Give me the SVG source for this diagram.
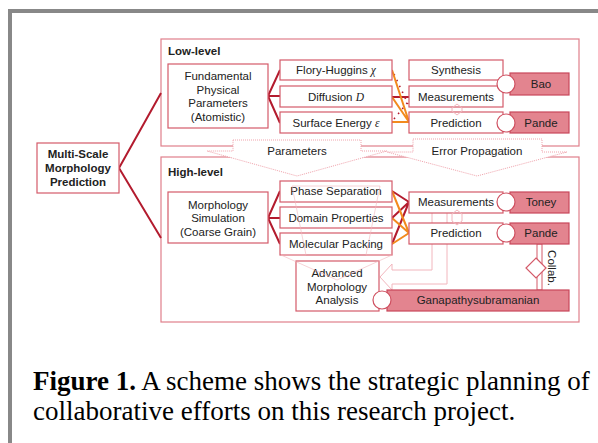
<svg xmlns="http://www.w3.org/2000/svg" width="598" height="443" viewBox="0 0 598 443">
<style>
.t{font-family:"Liberation Sans",Arial,sans-serif;font-size:11.5px;fill:#222;text-anchor:middle;dominant-baseline:central}
.b{font-weight:bold}
.lbl{font-family:"Liberation Sans",Arial,sans-serif;font-size:11.5px;font-weight:bold;fill:#222}
.node{fill:#fff;stroke:#d45a69;stroke-width:1.2}
.cont{fill:none;stroke:#e07f8b;stroke-width:1.2}
.name{fill:#e3848f;stroke:#c8475a;stroke-width:1.2}
.circ{fill:#fff;stroke:#cf5060;stroke-width:1.2}
.dr{stroke:#b31b2e;stroke-width:2;fill:none}
.or{stroke:#f28a1e;stroke-width:2;fill:none}
.dot{stroke:#b31b2e;stroke-width:1.6;fill:none;stroke-dasharray:1.5 5}
.faint{fill:none;stroke:#f2b6bd;stroke-width:1}
.call{fill:#fff;stroke:#f0a3ac;stroke-width:1;stroke-dasharray:1 1}
.it{font-family:"Liberation Serif","Times New Roman",serif;font-style:italic}
.cap{font-family:"Liberation Serif","Times New Roman",serif;font-size:27px;fill:#000}
</style>
<rect x="10" y="11" width="600" height="450" fill="#fff" stroke="#888" stroke-width="4"/>

<g id="containers">
<rect id="low-level" class="cont" x="161" y="39" width="418" height="107"/>
<rect id="high-level" class="cont" x="161" y="157" width="418" height="165"/>
<text class="lbl" x="168" y="55">Low-level</text>
<text class="lbl" x="168" y="176">High-level</text>
</g>

<g id="faint-arrows">
<path class="faint" d="M432 213 L432 270 L392 270 L392 264 L380 277 L392 290 L392 284 L447 284 L447 213"/>
</g>

<g id="callouts">
<polygon id="parameters" class="call" points="233,140 361,140 361,151 387,151 297,176 207,151 233,151"/>
<text class="t" x="297" y="151">Parameters</text>
<polygon id="error-propagation" class="call" points="413,139 542,139 542,152 567,152 477,176 387,152 413,152"/>
<text class="t" x="477" y="151">Error Propagation</text>
</g>

<g id="connectors">
<path class="dr" d="M119 168 L161 93 M119 168 L161 238"/>
<path class="dr" d="M268 96 L280 70 M268 96 L280 96 M268 96 L280 123"/>
<path class="dr" d="M268 218 L280 191 M268 218 L280 218 M268 218 L280 244"/>
<path class="dr" d="M392 97 L409 97"/>
<path class="dot" d="M394 74 L408 104 M394 119 L408 102"/>
<path class="or" d="M392 70 L409 122 M392 97 L409 122 M392 122 L409 122"/>
<path class="dr" d="M392 191 L409 202 M392 218 L409 202 M392 244 L409 202"/>
<path class="or" d="M392 191 L409 233 M392 218 L409 233 M392 244 L409 233"/>
<rect x="537" y="244" width="5" height="46" fill="#fff" stroke="#d45a69" stroke-width="1"/>
</g>

<g id="multi-scale">
<rect class="node" x="37" y="143" width="82" height="50"/>
<text class="t b" x="78" y="154">Multi-Scale</text>
<text class="t b" x="78" y="168">Morphology</text>
<text class="t b" x="78" y="182">Prediction</text>
</g>

<g id="fundamental">
<rect class="node" x="168" y="64" width="100" height="64"/>
<text class="t" x="218" y="76">Fundamental</text>
<text class="t" x="218" y="90">Physical</text>
<text class="t" x="218" y="103">Parameters</text>
<text class="t" x="218" y="117">(Atomistic)</text>
</g>

<g id="flory-huggins">
<rect class="node" x="280" y="60" width="112" height="20"/>
<text class="t" x="336" y="70">Flory-Huggins <tspan class="it">χ</tspan></text>
</g>
<g id="diffusion">
<rect class="node" x="280" y="86" width="112" height="21"/>
<text class="t" x="336" y="97">Diffusion <tspan class="it">D</tspan></text>
</g>
<g id="surface-energy">
<rect class="node" x="280" y="112" width="112" height="21"/>
<text class="t" x="336" y="123">Surface Energy <tspan class="it">ε</tspan></text>
</g>

<g id="synthesis">
<rect class="node" x="409" y="60" width="94" height="20"/>
<text class="t" x="456" y="70">Synthesis</text>
</g>
<g id="measurements-low">
<rect class="node" x="409" y="86" width="94" height="21"/>
<text class="t" x="456" y="97">Measurements</text>
</g>
<g id="prediction-low">
<rect class="node" x="409" y="112" width="94" height="21"/>
<text class="t" x="456" y="123">Prediction</text>
</g>
<polygon class="faint" fill="#fff" points="457,104 462,108 462,111 457,115 452,111 452,108"/>

<g id="bao">
<rect class="name" x="510" y="73" width="59" height="22"/>
<circle class="circ" cx="506" cy="84" r="9"/>
<text class="t" x="541" y="84">Bao</text>
</g>
<g id="pande-low">
<rect class="name" x="510" y="112" width="59" height="21"/>
<circle class="circ" cx="506" cy="123" r="9"/>
<text class="t" x="541" y="123">Pande</text>
</g>

<g id="morphology-simulation">
<rect class="node" x="168" y="192" width="100" height="51"/>
<text class="t" x="218" y="205">Morphology</text>
<text class="t" x="218" y="218">Simulation</text>
<text class="t" x="218" y="232">(Coarse Grain)</text>
</g>

<g id="phase-separation">
<rect class="node" x="280" y="181" width="112" height="21"/>
<text class="t" x="336" y="191">Phase Separation</text>
</g>
<g id="domain-properties">
<rect class="node" x="280" y="207" width="112" height="21"/>
<text class="t" x="336" y="218">Domain Properties</text>
</g>
<g id="molecular-packing">
<rect class="node" x="280" y="233" width="112" height="22"/>
<text class="t" x="336" y="244">Molecular Packing</text>
</g>

<g id="measurements-high">
<rect class="node" x="409" y="192" width="94" height="21"/>
<text class="t" x="456" y="202">Measurements</text>
</g>
<g id="prediction-high">
<rect class="node" x="409" y="223" width="94" height="21"/>
<text class="t" x="456" y="233">Prediction</text>
</g>
<polygon class="faint" fill="#fff" points="457,210 462,214 462,221 457,225 452,221 452,214"/>

<g id="toney">
<rect class="name" x="510" y="192" width="59" height="21"/>
<circle class="circ" cx="506" cy="202" r="9"/>
<text class="t" x="541" y="202">Toney</text>
</g>
<g id="pande-high">
<rect class="name" x="510" y="223" width="59" height="21"/>
<circle class="circ" cx="506" cy="233" r="9"/>
<text class="t" x="541" y="233">Pande</text>
</g>

<g id="collab">
<polygon fill="#fff" stroke="#d45a69" stroke-width="1.2" points="536,258 546,268 536,278 526,268"/>
<text class="t" x="0" y="0" transform="translate(552 268) rotate(90)">Collab.</text>
</g>

<g id="advanced-morphology">
<rect class="node" x="296" y="261" width="83" height="50"/>
<text class="t" x="337" y="273">Advanced</text>
<text class="t" x="337" y="287">Morphology</text>
<text class="t" x="337" y="300">Analysis</text>
</g>

<g id="ganapathysubramanian">
<rect class="name" x="387" y="290" width="182" height="21"/>
<circle class="circ" cx="382" cy="300" r="9"/>
<text class="t" x="478" y="300">Ganapathysubramanian</text>
</g>

<g id="funnel" opacity="0.6">
<polygon class="faint" points="292,186 380,186 366,255 392,255 337,280 281,255 306,255"/>
</g>

<g id="caption">
<text class="cap" x="33" y="390"><tspan font-weight="bold">Figure 1.</tspan> A scheme shows the strategic planning of</text>
<text class="cap" x="33" y="420">collaborative efforts on this research project.</text>
</g>
</svg>
